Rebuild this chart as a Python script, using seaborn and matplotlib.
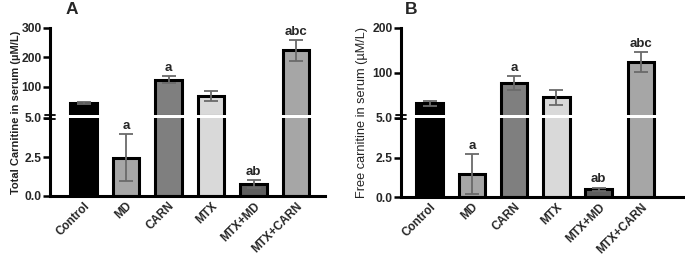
import numpy as np
import matplotlib
matplotlib.use("Agg")
import matplotlib.pyplot as plt
from matplotlib.lines import Line2D
import seaborn as sns

# ---------------- data ----------------
categories = ["Control", "MD", "CARN", "MTX", "MTX+MD", "MTX+CARN"]
colors = ["#000000", "#a6a6a6", "#7f7f7f", "#d9d9d9", "#5f5f5f", "#a6a6a6"]

total_mean = [45, 2.45, 125, 70, 0.77, 224]
total_err = [3, 1.5, 12, 16, 0.28, 36]
total_letters = ["", "a", "a", "", "ab", "abc"]

free_mean = [31, 1.45, 77, 45, 0.48, 124]
free_err = [6, 1.25, 15, 17, 0.12, 22]
free_letters = ["", "a", "a", "", "ab", "abc"]

lower_ticks = [0.0, 2.5, 5.0]
upper_ticks_A = [100, 200, 300]
upper_ticks_B = [100, 200]
BREAK = 5.0

sns.set_theme(style="white")
plt.rcParams["font.family"] = ["Liberation Sans", "DejaVu Sans"]

W, H = 685, 268
fig = plt.figure(figsize=(W / 100, H / 100), dpi=100)


def rect(l, t, r, b):
    return [l / W, 1 - b / H, (r - l) / W, (b - t) / H]


LW = 2.2
ERRC = "#6a6a6a"


def draw_panel(left, right, bottom, xlim, means, errs, letters, upper_max, upper_ticks,
               ylabel, ylabel_bold, ylabel_size, ylabel_x, title, title_x):
    gap_top, gap_bot = 115, 118
    ax_lo = fig.add_axes(rect(left, gap_bot, right, bottom))
    ax_hi = fig.add_axes(rect(left, 28, right, gap_top))
    x = np.arange(len(categories))
    m_arr = np.asarray(means, dtype=float)
    e_arr = np.asarray(errs, dtype=float)
    for ax, ylim, sel in ((ax_lo, (0, BREAK), m_arr < BREAK),
                          (ax_hi, (BREAK, upper_max), m_arr >= BREAK)):
        sns.barplot(x=categories, y=means, hue=categories, palette=colors,
                    width=0.63, edgecolor="black", linewidth=LW, errorbar=None,
                    legend=False, ax=ax, zorder=2)
        if ax is ax_hi:
            for p in ax.patches:
                if p.get_height() < BREAK:
                    p.set_visible(False)
        ax.errorbar(x[sel], m_arr[sel], yerr=e_arr[sel], fmt="none", ecolor=ERRC,
                    elinewidth=1.3, capsize=5, capthick=1.3, zorder=3)
        ax.set_ylim(*ylim)
        ax.set_xlim(*xlim)
        ax.set_xlabel("")
        ax.set_ylabel("")
        for s in ("top", "right"):
            ax.spines[s].set_visible(False)
        ax.spines["left"].set_linewidth(LW)
        ax.spines["left"].set_color("black")
        ax.spines["bottom"].set_linewidth(LW)
        ax.spines["bottom"].set_color("black")
        ax.tick_params(axis="y", which="both", left=True, length=5, width=1.8,
                       color="black", labelsize=8.5, pad=1)
        ax.patch.set_alpha(0)

    ax_lo.set_yticks(lower_ticks)
    ax_lo.set_yticklabels([f"{v:.1f}" for v in lower_ticks], fontweight="bold", fontsize=8.7)
    ax_hi.set_yticks(upper_ticks)
    ax_hi.set_yticklabels([str(v) for v in upper_ticks], fontweight="bold", fontsize=8.7)
    ax_hi.spines["bottom"].set_visible(False)
    ax_hi.tick_params(axis="x", bottom=False, labelbottom=False)
    ax_lo.tick_params(axis="x", bottom=False, length=0, pad=3)
    ax_lo.set_xticks(range(len(categories)))
    ax_lo.set_xticklabels(categories, rotation=45, ha="right", rotation_mode="anchor",
                          fontweight="bold", fontsize=8.5)

    # letters
    for i, (m, e, l) in enumerate(zip(means, errs, letters)):
        if not l:
            continue
        top = m + e
        ax = ax_lo if m < BREAK else ax_hi
        ax.annotate(l, (i, top), xytext=(0, 1.5), textcoords="offset points",
                    ha="center", va="bottom", fontsize=9.5, fontweight="bold")

    # break marks on y axis
    for yp in (gap_top - 0.5, gap_bot + 0.5):
        fig.lines.append(Line2D([(left - 5) / W, (left + 5) / W], [1 - yp / H, 1 - yp / H],
                                transform=fig.transFigure, color="black", lw=1.3))

    fig.text(ylabel_x / W, 1 - 112 / H, ylabel, rotation=90, ha="center", va="center",
             fontsize=ylabel_size, fontweight="bold" if ylabel_bold else "normal",
             color="#222222")
    fig.text(title_x / W, 1 - 9 / H, title, ha="center", va="center", fontsize=12.5,
             fontweight="bold")


draw_panel(50, 325, 196, (-0.788, 5.68), total_mean, total_err, total_letters, 300,
           upper_ticks_A, "Total Carnitine in serum (\u00b5M/L)", True, 8.0, 16, "A", 72)
draw_panel(401, 684, 197, (-0.677, 6.02), free_mean, free_err, free_letters, 200,
           upper_ticks_B, "Free carnitine in serum (\u00b5M/L)", False, 9.2, 362, "B", 411)

fig.savefig("out.png", dpi=100, facecolor="white")
